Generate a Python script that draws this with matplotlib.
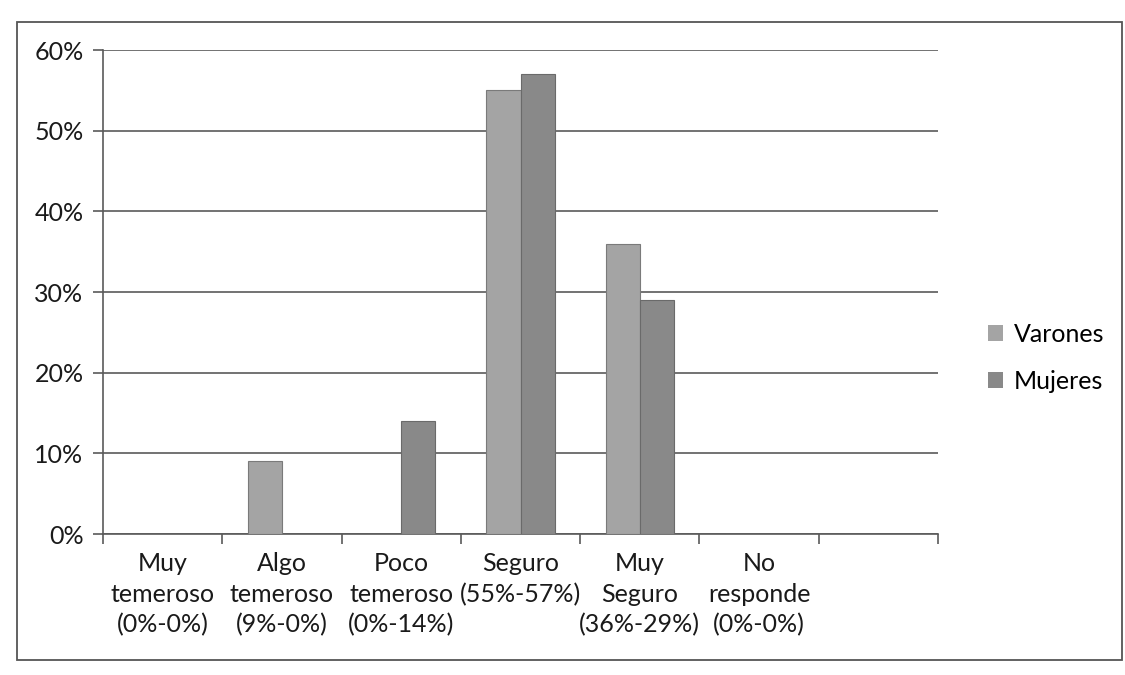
import matplotlib
matplotlib.use("Agg")
import matplotlib.pyplot as plt
from matplotlib.patches import Patch, Rectangle
from matplotlib.ticker import FuncFormatter, FixedLocator
import numpy as np

categories = ["Muy\ntemeroso\n(0%-0%)", "Algo\ntemeroso\n(9%-0%)", "Poco\ntemeroso\n(0%-14%)",
              "Seguro\n(55%-57%)", "Muy\nSeguro\n(36%-29%)", "No\nresponde\n(0%-0%)", ""]
varones = [0, 9, 0, 55, 36, 0, 0]
mujeres = [0, 0, 14, 57, 29, 0, 0]
series_names = ["Varones", "Mujeres"]
yticks = [0, 10, 20, 30, 40, 50, 60]

plt.rcParams['font.family'] = ['Lato', 'DejaVu Sans']

W, H = 1125, 675
fig = plt.figure(figsize=(W / 100, H / 100), dpi=100)
fig.patch.set_facecolor("white")

# chart border
fig.add_artist(Rectangle((17 / W, 1 - 660 / H), (1122 - 17) / W, (660 - 22) / H,
                         transform=fig.transFigure, fill=False, edgecolor="#555555", lw=1.3))

left, right, top, bottom = 103, 938, 50, 534
ax = fig.add_axes([left / W, 1 - bottom / H, (right - left) / W, (bottom - top) / H])

x = np.arange(len(categories))
bw = 0.286
c_var = "#a4a4a4"
c_muj = "#898989"
ax.bar(x - bw / 2, varones, width=bw, color=c_var, edgecolor="#7a7a7a", linewidth=0.8, zorder=3)
ax.bar(x + bw / 2, mujeres, width=bw, color=c_muj, edgecolor="#6a6a6a", linewidth=0.8, zorder=3)

ax.set_xlim(-0.5, len(categories) - 0.5)
ax.set_ylim(0, 60)
ax.set_yticks(yticks)
ax.yaxis.set_major_formatter(FuncFormatter(lambda v, p: f"{v:.0f}%"))
ax.grid(axis="y", color="#5a5a5a", linewidth=1.2, zorder=0)
ax.set_axisbelow(True)

for s in ["top", "right"]:
    ax.spines[s].set_visible(False)
ax.spines["left"].set_color("#5a5a5a")
ax.spines["bottom"].set_color("#5a5a5a")
ax.spines["left"].set_linewidth(1.2)
ax.spines["bottom"].set_linewidth(1.2)

ax.set_xticks(x)
ax.set_xticklabels(categories, fontsize=18, color="#1a1a1a", linespacing=1.4)
ax.tick_params(axis="x", which="major", length=0, pad=13)
ax.xaxis.set_minor_locator(FixedLocator(np.arange(-0.5, len(categories), 1.0)))
ax.tick_params(axis="x", which="minor", length=7, width=1.2, color="#5a5a5a", direction="out")
ax.tick_params(axis="y", length=7, width=1.2, color="#5a5a5a", labelsize=18, labelcolor="#1a1a1a", pad=7)

handles = [Patch(facecolor=c_var, edgecolor="none"), Patch(facecolor=c_muj, edgecolor="none")]
fig.legend(handles, series_names, loc="center left", bbox_to_anchor=(975 / W, 1 - 358 / H),
           frameon=False, fontsize=18, handlelength=0.6, handleheight=0.6,
           handletextpad=0.45, labelspacing=0.95, borderpad=0)

fig.savefig("out.png", dpi=100, facecolor="white")
